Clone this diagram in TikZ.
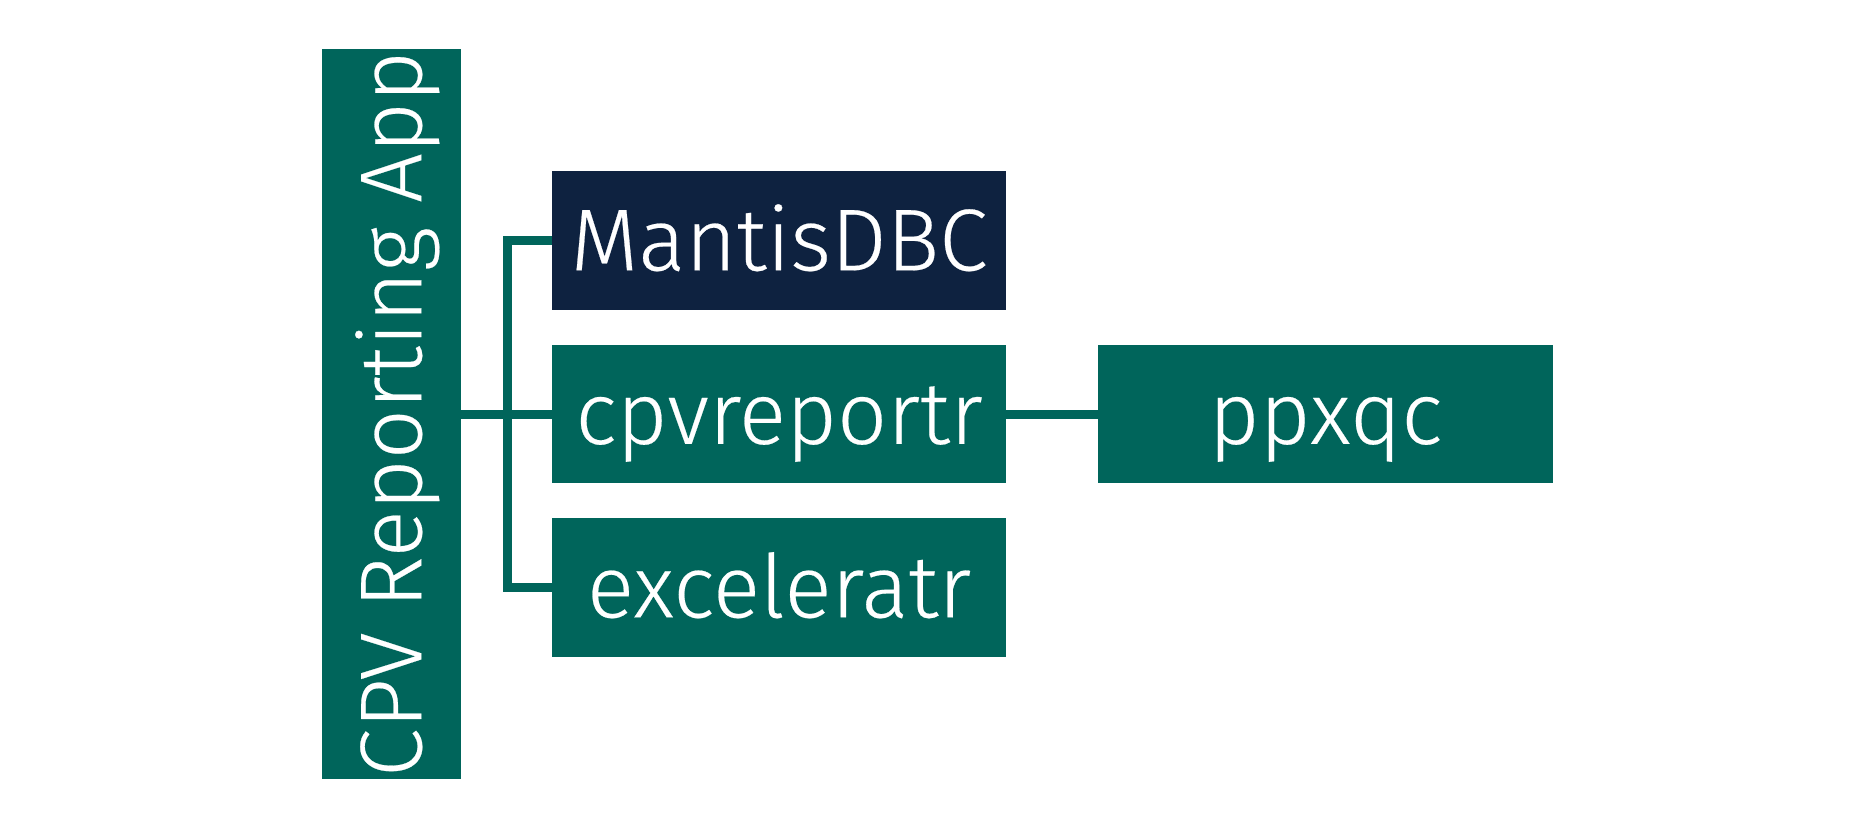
\documentclass[tikz,border=0pt]{standalone}
\usepackage{fontspec}
\setmainfont{Fira Sans Light}[BoldFont={Fira Sans Light},BoldFeatures={FakeBold=0.25}]
\definecolor{tealbox}{RGB}{0,101,91}
\definecolor{navybox}{RGB}{14,34,64}
\begin{document}
\begin{tikzpicture}[x=0.02cm,y=-0.02cm,
  box/.style={draw=none,fill=tealbox,text=white,inner sep=0pt,
    minimum width=9.08cm,minimum height=2.78cm,
    font=\fontsize{50}{60}\selectfont\bfseries,text height=34pt,text depth=0pt},
  conn/.style={draw=tealbox,line width=0.18cm,line join=miter}]
\useasboundingbox (0,0) rectangle (1876,829);
\node[box,rotate=90,minimum width=14.6cm,minimum height=2.78cm] (root) at (391.5,414) {\makebox[12cm]{CPV Reporting App}};
\node[box,fill=navybox] (mantis) at (779,240.5) {MantisDBC};
\node[box] (cpv) at (779,414) {cpvreportr};
\node[box] (excel) at (779,587.5) {exceleratr};
\node[box,minimum width=9.1cm] (ppxqc) at (1325.5,414) {ppxqc};
\coordinate (trunk) at (507,414);
\draw[conn] (mantis.west) -| (trunk) |- (excel.west);
\draw[conn] (root.south) -- (cpv.west);
\draw[conn] (cpv.east) -- (ppxqc.west);
\end{tikzpicture}
\end{document}
